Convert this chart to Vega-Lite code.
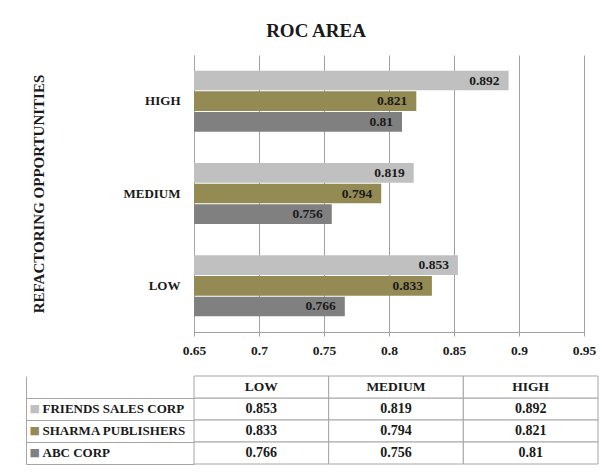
{
  "$schema": "https://vega.github.io/schema/vega-lite/v6.json",
  "padding": {"left": 25, "top": 22, "right": 0, "bottom": 0},
  "background": "white",
  "config": {
    "view": {"stroke": null},
    "font": "Liberation Serif",
    "axis": {"labelFont": "Liberation Serif", "titleFont": "Liberation Serif"},
    "text": {"font": "Liberation Serif"},
    "mark": {"font": "Liberation Serif"},
    "title": {"font": "Liberation Serif"},
    "concat": {"spacing": 18}
  },
  "datasets": {
    "roc": [
      {"level": "LOW", "series": "FRIENDS SALES CORP", "value": 0.853},
      {"level": "LOW", "series": "SHARMA PUBLISHERS", "value": 0.833},
      {"level": "LOW", "series": "ABC CORP", "value": 0.766},
      {"level": "MEDIUM", "series": "FRIENDS SALES CORP", "value": 0.819},
      {"level": "MEDIUM", "series": "SHARMA PUBLISHERS", "value": 0.794},
      {"level": "MEDIUM", "series": "ABC CORP", "value": 0.756},
      {"level": "HIGH", "series": "FRIENDS SALES CORP", "value": 0.892},
      {"level": "HIGH", "series": "SHARMA PUBLISHERS", "value": 0.821},
      {"level": "HIGH", "series": "ABC CORP", "value": 0.81}
    ]
  },
  "vconcat": [
    {
      "width": 390,
      "height": 277,
      "data": {"name": "roc"},
      "title": {"text": "ROC AREA", "fontSize": 19, "font": "Liberation Serif", "fontWeight": "bold", "color": "#1a1a1a", "frame": "group", "dx": -73, "offset": 14},
      "encoding": {
        "y": {"field": "level", "type": "nominal", "sort": ["HIGH", "MEDIUM", "LOW"],
          "scale": {"paddingInner": 0.34, "paddingOuter": 0.17},
          "axis": {"title": "REFACTORING OPPORTUNITIES", "titleFontSize": 15, "titleFont": "Liberation Serif", "titleFontWeight": "bold", "titleColor": "#1a1a1a", "titlePadding": 76,
            "labelFont": "Liberation Serif", "labelFontSize": 13, "labelFontWeight": "bold", "labelColor": "#1a1a1a", "labelPadding": 14, "ticks": false, "domain": true, "domainColor": "#a6a6a6"}},
        "yOffset": {"field": "series", "type": "nominal", "sort": ["FRIENDS SALES CORP", "SHARMA PUBLISHERS", "ABC CORP"], "scale": {"paddingInner": 0.05}},
        "x": {"field": "value", "type": "quantitative",
          "scale": {"domain": [0.65, 0.95], "nice": false, "zero": false},
          "axis": {"values": [0.65, 0.7, 0.75, 0.8, 0.85, 0.9, 0.95], "format": "~g", "grid": true, "gridColor": "#a0a0a0", "domainColor": "#a0a0a0", "tickColor": "#a0a0a0", "tickSize": 4,
            "labelFlush": false, "labelFont": "Liberation Serif", "labelFontSize": 13.5, "labelFontWeight": "bold", "labelColor": "#1a1a1a", "labelPadding": 7, "title": null}}
      },
      "layer": [
        {"mark": {"type": "bar"},
          "encoding": {
            "x2": {"datum": 0.65},
            "color": {"field": "series", "type": "nominal", "scale": {"domain": ["FRIENDS SALES CORP", "SHARMA PUBLISHERS", "ABC CORP"], "range": ["#c0c0c0", "#948a54", "#808080"]}, "legend": null}
          }},
        {"mark": {"type": "text", "align": "right", "baseline": "middle", "dx": -9, "font": "Liberation Serif", "fontWeight": "bold", "fontSize": 13.5, "color": "#1a1a1a"},
          "encoding": {"text": {"field": "value", "type": "quantitative", "format": "~g"}}}
      ]
    },
    {
      "width": 404,
      "height": 88,
      "data": {"name": "roc"},
      "resolve": {"axis": {"y": "independent"}},
      "layer": [
        {"mark": {"type": "rect", "fill": "white", "stroke": "#a6a6a6", "strokeWidth": 1},
          "encoding": {
            "x": {"field": "level", "type": "nominal", "sort": ["LOW", "MEDIUM", "HIGH"], "scale": {"paddingInner": 0, "paddingOuter": 0}, "axis": null},
            "y": {"field": "series", "type": "nominal", "scale": {"domain": ["HEADER", "FRIENDS SALES CORP", "SHARMA PUBLISHERS", "ABC CORP"], "paddingInner": 0, "paddingOuter": 0},
              "axis": {"orient": "left", "title": null, "domain": false, "ticks": true, "tickSize": 168, "tickColor": "#a6a6a6", "bandPosition": 1,
                "labelAlign": "left", "labelBaseline": "middle", "labelPadding": -16, "labelFont": "Liberation Serif", "labelFontSize": 13, "labelFontWeight": "bold", "labelColor": "#1a1a1a", "labelLimit": 0,
                "labelExpr": "datum.value == 'HEADER' ? '' : datum.value"}}
          }},
        {"transform": [{"aggregate": [{"op": "count", "as": "n"}], "groupby": ["level"]}],
          "mark": {"type": "rect", "fill": "white", "stroke": "#a6a6a6", "strokeWidth": 1},
          "encoding": {
            "x": {"field": "level", "type": "nominal", "sort": ["LOW", "MEDIUM", "HIGH"], "scale": {"paddingInner": 0, "paddingOuter": 0}, "axis": null},
            "y": {"datum": "HEADER", "type": "nominal", "scale": {"domain": ["HEADER", "FRIENDS SALES CORP", "SHARMA PUBLISHERS", "ABC CORP"], "paddingInner": 0, "paddingOuter": 0}, "axis": null}
          }},
        {"transform": [{"aggregate": [{"op": "count", "as": "n"}], "groupby": ["level"]}],
          "mark": {"type": "text", "font": "Liberation Serif", "fontWeight": "bold", "fontSize": 13.5, "color": "#1a1a1a", "baseline": "middle"},
          "encoding": {
            "x": {"field": "level", "type": "nominal", "sort": ["LOW", "MEDIUM", "HIGH"], "scale": {"paddingInner": 0, "paddingOuter": 0}, "axis": null},
            "y": {"datum": "HEADER", "type": "nominal", "scale": {"domain": ["HEADER", "FRIENDS SALES CORP", "SHARMA PUBLISHERS", "ABC CORP"], "paddingInner": 0, "paddingOuter": 0}, "axis": null},
            "text": {"field": "level"}
          }},
        {"mark": {"type": "text", "font": "Liberation Serif", "fontWeight": "bold", "fontSize": 14, "color": "#1a1a1a", "baseline": "middle"},
          "encoding": {
            "x": {"field": "level", "type": "nominal", "sort": ["LOW", "MEDIUM", "HIGH"], "scale": {"paddingInner": 0, "paddingOuter": 0}, "axis": null},
            "y": {"field": "series", "type": "nominal", "scale": {"domain": ["HEADER", "FRIENDS SALES CORP", "SHARMA PUBLISHERS", "ABC CORP"], "paddingInner": 0, "paddingOuter": 0},
              "axis": {"orient": "left", "offset": 168, "title": null, "domain": true, "domainColor": "#a6a6a6", "ticks": false, "labelAlign": "left", "labelBaseline": "middle", "labelPadding": -3,
                "labelExpr": "datum.value == 'HEADER' ? '' : '■'",
                "labelColor": {"expr": "datum.value == 'FRIENDS SALES CORP' ? '#c0c0c0' : datum.value == 'SHARMA PUBLISHERS' ? '#948a54' : '#808080'"},
                "labelFont": "DejaVu Sans", "labelFontSize": 11}},
            "text": {"field": "value", "type": "quantitative", "format": "~g"}
          }}
      ]
    }
  ]
}
